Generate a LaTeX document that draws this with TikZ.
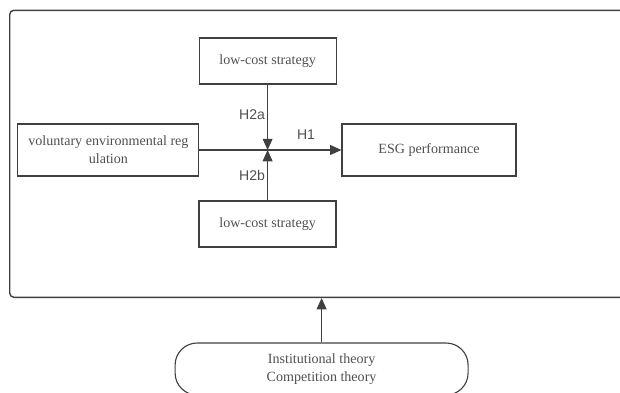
\documentclass[tikz,border=0pt]{standalone}
\usepackage{fontspec}
\setmainfont{Liberation Serif}
\setsansfont{Liberation Sans}
\usepackage{tikz}
\usepackage{xcolor}
\usetikzlibrary{arrows.meta,positioning,calc}
\definecolor{linegray}{HTML}{404040}
\definecolor{textgray}{HTML}{505050}

\begin{document}
\begin{tikzpicture}[
  >={Triangle[length=8pt,width=7pt]},
  box/.style={draw=linegray, line width=0.8pt, minimum width=3.425cm, minimum height=1.15cm, align=center, text=textgray, font=\fontsize{10}{13}\selectfont},
  theory/.style={draw=linegray, line width=0.8pt, rounded corners=0.55cm, minimum width=7.325cm, minimum height=1.3cm, align=center, text=textgray, font=\fontsize{10}{12.5}\selectfont},
  hlab/.style={text=textgray, font=\sffamily\fontsize{10}{12}\selectfont},
  arr/.style={->, draw=linegray, line width=0.8pt}
]
\useasboundingbox (0,0) rectangle (15.5,9.8);
\clip (0,0) rectangle (15.5,9.8);
\node[draw=linegray, line width=1pt, rounded corners=3pt, minimum width=15.6cm, minimum height=7.175cm, anchor=south west] (frame) at (0.225,2.35) {};
\node[box] (lowa) at (6.69,8.275) {low-cost strategy};
\node[box, minimum width=4.525cm, minimum height=1.3cm] (vol) at (2.71,6.05) {voluntary environmental reg\\ulation};
\node[box, minimum width=4.35cm, minimum height=1.3cm] (esg) at (10.725,6.05) {ESG performance};
\node[box, line width=1.1pt] (lowb) at (6.69,4.2) {low-cost strategy};
\node[theory] (theo) at (8.04,0.575) {Institutional theory\\Competition theory};
\coordinate (jn) at (6.69,6.05);

\node[hlab] (h2a) at (6.3,6.925) {H2a};
\node[hlab] (h1) at (7.65,6.425) {H1};
\node[hlab] (h2b) at (6.3,5.425) {H2b};

\draw[arr] (vol) -- (esg);
\draw[arr] (lowa) -- (jn);
\draw[arr] (lowb) -- (jn);
\draw[arr] (theo.north) -- (theo.north |- frame.south);
\end{tikzpicture}
\end{document}
